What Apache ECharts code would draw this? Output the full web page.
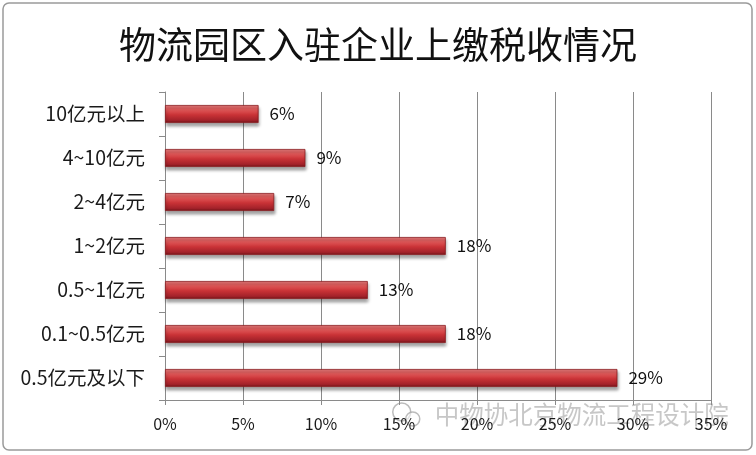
<!DOCTYPE html>
<html>
<head>
<meta charset="utf-8">
<script src="https://cdn.jsdelivr.net/npm/echarts@6/dist/echarts.min.js"></script>
<style>
  html, body { margin: 0; padding: 0; background: #ffffff; }
  #chart { width: 756px; height: 455px; }
</style>
</head>
<body>
<div id="chart"></div>
<script>
// Tax bracket categories, top to bottom
const categories = ['10亿元以上', '4~10亿元', '2~4亿元', '1~2亿元', '0.5~1亿元', '0.1~0.5亿元', '0.5亿元及以下'];
// Share of enterprises in each bracket (%)
const shares = [6, 9, 7, 18, 13, 18, 29];
// Value-axis ticks (%)
const axisMin = 0;
const axisMax = 35;
const axisStep = 5;

const titleText = '物流园区入驻企业上缴税收情况';
const watermarkText = '中物协北京物流工程设计院';

const fontFamily = '"Noto Sans CJK SC", "Noto Sans", sans-serif';

const chart = echarts.init(document.getElementById('chart'), null, { renderer: 'canvas' });

const barFill = new echarts.graphic.LinearGradient(0, 0, 0, 1, [
  { offset: 0, color: '#d67575' },
  { offset: 0.25, color: '#e25a5a' },
  { offset: 0.55, color: '#c93236' },
  { offset: 0.85, color: '#a3222a' },
  { offset: 1, color: '#6e1216' }
]);

chart.setOption({
  backgroundColor: '#ffffff',
  animation: false,
  title: {
    text: titleText,
    left: 'center',
    top: 21,
    textStyle: {
      fontFamily: fontFamily,
      fontSize: 37,
      fontWeight: 'normal',
      color: '#111111'
    }
  },
  grid: { left: 165, right: 45, top: 92, bottom: 55 },
  xAxis: {
    type: 'value',
    min: axisMin,
    max: axisMax,
    interval: axisStep,
    axisLine: { show: true, lineStyle: { color: '#8a8a8a', width: 1 } },
    axisTick: { show: true, length: 5, lineStyle: { color: '#8a8a8a' } },
    axisLabel: {
      formatter: '{value}%',
      margin: 16,
      fontFamily: fontFamily,
      fontSize: 16,
      color: '#1a1a1a'
    },
    splitLine: { show: true, lineStyle: { color: '#8a8a8a', width: 1 } }
  },
  yAxis: {
    type: 'category',
    inverse: true,
    data: categories,
    axisLine: { show: true, lineStyle: { color: '#8a8a8a', width: 1 } },
    axisTick: { show: true, length: 6, alignWithLabel: false, lineStyle: { color: '#8a8a8a' } },
    axisLabel: {
      margin: 20,
      fontFamily: fontFamily,
      fontSize: 19.5,
      color: '#1a1a1a'
    },
    splitLine: { show: false }
  },
  series: [{
    type: 'bar',
    data: shares,
    barWidth: 18,
    itemStyle: {
      color: barFill,
      borderColor: '#8a1c20',
      borderWidth: 0.8,
      shadowColor: 'rgba(0,0,0,0.35)',
      shadowBlur: 3,
      shadowOffsetX: 1,
      shadowOffsetY: 3
    },
    label: {
      show: true,
      position: 'right',
      distance: 11,
      formatter: '{c}%',
      fontFamily: fontFamily,
      fontSize: 17,
      color: '#111111'
    }
  }],
  graphic: [
    {
      type: 'rect',
      shape: { x: 3, y: 3, width: 749, height: 447, r: 6 },
      style: { fill: null, stroke: '#9a9a9a', lineWidth: 1.5 },
      silent: true,
      z: 100
    },
    {
      type: 'group',
      left: 392,
      top: 402,
      z: 100,
      children: [
        { type: 'circle', shape: { cx: 11, cy: 10, r: 9 }, style: { fill: 'rgba(255,255,255,0.6)', stroke: 'rgba(160,160,160,0.7)', lineWidth: 1.5 } },
        { type: 'circle', shape: { cx: 22, cy: 17, r: 7 }, style: { fill: 'rgba(255,255,255,0.6)', stroke: 'rgba(160,160,160,0.7)', lineWidth: 1.5 } },
        {
          type: 'text',
          x: 44,
          y: 0,
          style: {
            text: watermarkText,
            fontFamily: fontFamily,
            fontSize: 24.5,
            fill: 'rgba(175,175,175,0.7)'
          }
        }
      ]
    }
  ]
});
</script>
</body>
</html>
